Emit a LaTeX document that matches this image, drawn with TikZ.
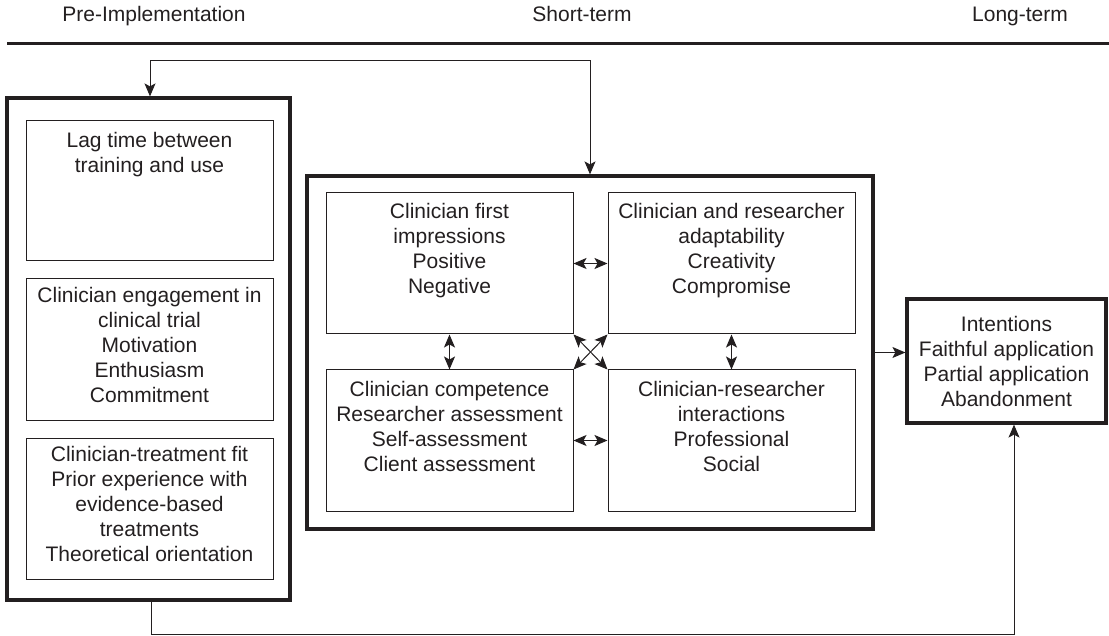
\documentclass[tikz,border=0pt]{standalone}
\usepackage{fontspec}
\setmainfont{Liberation Sans}
\usepackage{tikz}
\usetikzlibrary{arrows.meta, positioning, calc}
\definecolor{inkgray}{RGB}{35, 31, 32}

\begin{document}
\begin{tikzpicture}[
    x=1pt, y=-1pt,
    every node/.style={font=\fontsize{21}{25}\selectfont, align=center, text=inkgray},
    phase/.style={inner sep=0pt, anchor=base},
    outerbox/.style={draw=inkgray, line width=3.2pt, inner sep=0pt, minimum width=#1},
    innerbox/.style={draw=inkgray, line width=1pt, minimum width=247pt, minimum height=141pt, inner sep=0pt},
    boxtext/.style={anchor=north, inner sep=0pt},
    arr/.style={-{Stealth[length=13pt, width=11pt, inset=3pt]}, line width=1pt, color=inkgray},
    biarr/.style={{Stealth[length=13pt, width=11pt, inset=3pt]}-{Stealth[length=13pt, width=11pt, inset=3pt]}, line width=1pt, color=inkgray}
]
\useasboundingbox (0,0) rectangle (1109,636);

% Phase headings and rule
\node[phase] (prehead) at (154,22) {Pre-Implementation};
\node[phase] (shorthead) at (582,22) {Short-term};
\node[phase] (longhead) at (1020,22) {Long-term};
\draw[line width=3pt, color=inkgray] (7,44) -- (1109,44);

% Pre-implementation column
\node[outerbox=283pt, minimum height=502pt] (pre) at (148.5,349) {};
\node[innerbox, minimum height=140pt] (lag) at (149.5,191) {};
\node[boxtext] (lagtxt) at ([yshift=-12pt]lag.north) {Lag time between\\training and use};
\node[innerbox] (engage) at (149.5,349.5) {};
\node[boxtext] (engagetxt) at ([yshift=-9pt]engage.north) {Clinician engagement in\\clinical trial\\Motivation\\Enthusiasm\\Commitment};
\node[innerbox] (fit) at (149.5,508.5) {};
\node[boxtext] (fittxt) at ([yshift=-9pt]fit.north) {Clinician-treatment fit\\Prior experience with\\evidence-based\\treatments\\Theoretical orientation};

% Short-term block
\node[outerbox=566pt, minimum height=353pt] (mid) at (590,352.5) {};
\node[innerbox] (first) at (449.5,263.5) {};
\node[boxtext] (firsttxt) at ([yshift=-11pt]first.north) {Clinician first\\impressions\\Positive\\Negative};
\node[innerbox] (adapt) at (731.5,263.5) {};
\node[boxtext] (adapttxt) at ([yshift=-11pt]adapt.north) {Clinician and researcher\\adaptability\\Creativity\\Compromise};
\node[innerbox] (compet) at (449.5,440.5) {};
\node[boxtext] (competxt) at ([yshift=-12pt]compet.north) {Clinician competence\\Researcher assessment\\Self-assessment\\Client assessment};
\node[innerbox] (interact) at (731.5,440.5) {};
\node[boxtext] (interacttxt) at ([yshift=-12pt]interact.north) {Clinician-researcher\\interactions\\Professional\\Social};

% Long-term outcome
\node[outerbox=199pt, minimum height=124pt] (outcome) at (1006.5,361) {Intentions\\Faithful application\\Partial application\\Abandonment};

% Links inside the short-term block
\draw[biarr] (first.east) -- (adapt.west);
\draw[biarr] (compet.east) -- (interact.west);
\draw[biarr] (first.south) -- (compet.north);
\draw[biarr] (adapt.south) -- (interact.north);
\draw[biarr] (first.south east) -- (interact.north west);
\draw[biarr] (adapt.south west) -- (compet.north east);

% Feedback and outcome arrows
\draw[biarr] ([xshift=1.5pt]pre.north) -- ++(0,-36) -| (mid.north);
\draw[arr] (mid.east) -- (mid.east -| outcome.west);
\draw[arr] ([xshift=2.5pt]pre.south) -- ++(0,33) -| ([xshift=7.5pt]outcome.south);

\end{tikzpicture}
\end{document}
